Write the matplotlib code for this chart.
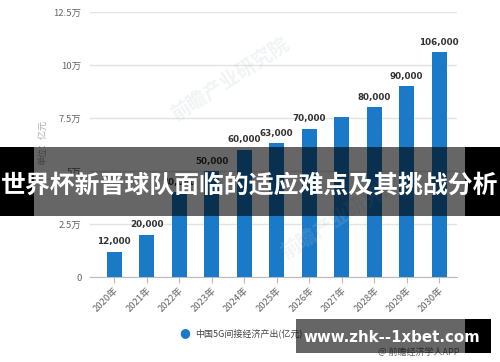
import matplotlib
matplotlib.use("Agg")
import matplotlib.pyplot as plt
from matplotlib.patches import Rectangle

plt.rcParams['font.family'] = ['Noto Sans CJK SC', 'DejaVu Sans']

years = ["2020年", "2021年", "2022年", "2023年", "2024年", "2025年",
         "2026年", "2027年", "2028年", "2029年", "2030年"]
values = [12000, 20000, 40000, 50000, 60000, 63000, 70000, 75500, 80000, 90000, 106000]
labels = ["12,000", "20,000", "40,000", "50,000", "60,000", "63,000",
          "70,000", "", "80,000", "90,000", "106,000"]
yticks = [0, 25000, 50000, 75000, 100000, 125000]
ytick_labels = ["0", "2.5万", "5万", "7.5万", "10万", "12.5万"]
legend_label = "中国5G间接经济产出(亿元)"
title = "世界杯新晋球队面临的适应难点及其挑战分析"
watermark = "www.zhk--1xbet.com"
source = "@ 前瞻经济学人APP"
unit = "单位：亿元"

fig = plt.figure(figsize=(5, 3.62), dpi=100)
ax = fig.add_axes([0.18, 0.2348, 0.734, 0.7322])

x = list(range(len(years)))
bar_color = "#1a7ac8"
ax.bar(x, values, width=0.46, color=bar_color, zorder=3)
for xi, v, lab in zip(x, values, labels):
    if lab:
        ax.text(xi, v + 2500, lab, ha='center', va='bottom', fontsize=6.3,
                fontweight='bold', color='#333333', family='DejaVu Sans', zorder=4)

ax.set_xlim(-0.74, 10.55)
ax.set_ylim(0, 125000)
ax.set_yticks(yticks)
ax.set_yticklabels(ytick_labels, fontsize=6.8, color='#666666')
ax.set_xticks(x)
ax.set_xticklabels(years, rotation=45, ha='right', rotation_mode='anchor',
                   fontsize=6.8, color='#666666')
ax.tick_params(axis='y', length=0, pad=6)
ax.tick_params(axis='x', length=4, color='#bbbbbb', pad=2)
ax.grid(axis='y', color='#e3e3e3', linewidth=1, zorder=0)
for s in ['top', 'right', 'left']:
    ax.spines[s].set_visible(False)
ax.spines['bottom'].set_color('#bbbbbb')

# unit label
fig.text(0.086, 0.605, unit, rotation=90, ha='center', va='center',
         fontsize=6.5, color='#aaaaaa')

# faint background watermarks
fig.text(0.46, 0.78, "前瞻产业研究院", rotation=33, ha='center', va='center',
         fontsize=14, color='#b8c2cc', alpha=0.2, fontweight='bold', zorder=4)
fig.text(0.68, 0.40, "前瞻产业研究院", rotation=33, ha='center', va='center',
         fontsize=14, color='#b8c2cc', alpha=0.2, fontweight='bold', zorder=4)

# legend
fig.text(0.37, 0.080, "●", ha='center', va='center', fontsize=9, color=bar_color,
         family='DejaVu Sans')
fig.text(0.39, 0.080, legend_label, ha='left', va='center', fontsize=6.5, color='#444444')

# source
fig.text(0.92, 0.025, source, ha='right', va='center', fontsize=6.5, color='#666666')

# title banner
by0 = 1 - 216 / 362
bh = 69 / 362
fig.add_artist(Rectangle((0, by0), 34 / 500, bh, transform=fig.transFigure,
                         facecolor='black', edgecolor='none', zorder=5))
fig.add_artist(Rectangle((465 / 500, by0), 35 / 500, bh, transform=fig.transFigure,
                         facecolor='black', edgecolor='none', zorder=5))
fig.add_artist(Rectangle((34 / 500, by0), 431 / 500, bh, transform=fig.transFigure,
                         facecolor='black', alpha=0.6, edgecolor='none', zorder=5))
fig.text(0.5, 1 - 186 / 362, title, ha='center', va='center', fontsize=17.9,
         fontweight='bold', color='white', zorder=6)

# bottom watermark box
wy0 = 1 - 353 / 362
wh = 34 / 362
fig.add_artist(Rectangle((296 / 500, wy0), 169 / 500, wh, transform=fig.transFigure,
                         facecolor='black', alpha=0.6, edgecolor='none', zorder=5))
fig.add_artist(Rectangle((465 / 500, wy0), 26 / 500, wh, transform=fig.transFigure,
                         facecolor='black', edgecolor='none', zorder=5))
fig.text(392 / 500, 1 - 337 / 362, watermark, ha='center', va='center', fontsize=10.8,
         fontweight='bold', color='white', family='DejaVu Sans', zorder=6)

fig.savefig("out.png", dpi=100)
